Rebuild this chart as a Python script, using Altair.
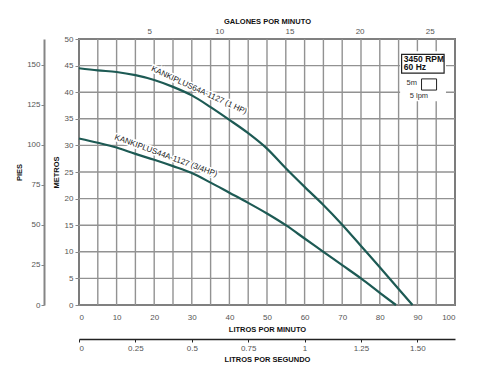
import json
import altair as alt
import pandas as pd

# ---------------- data ----------------
name_1hp = "KANKIPLUS64A-1127 (1 HP)"
name_34hp = "KANKIPLUS44A-1127 (3/4HP)"

hp1_lpm = [0, 5, 10, 15, 20, 25, 30, 35, 40, 45, 50, 55, 60, 65, 70, 75, 80, 85, 88.7]
hp1_m = [44.5, 44.1, 43.8, 43.2, 42.3, 41.0, 39.4, 37.2, 34.8, 32.3, 29.4, 25.7, 22.2, 18.8, 15.1, 11.1, 7.1, 3.0, 0]

hp34_lpm = [0, 5, 10, 15, 20, 25, 30, 35, 40, 45, 50, 55, 60, 65, 70, 75, 80, 84.3]
hp34_m = [31.3, 30.5, 29.6, 28.4, 27.3, 26.1, 24.8, 23.0, 21.1, 19.2, 17.2, 15.0, 12.5, 10.0, 7.5, 5.0, 2.3, 0]

lpm_grid = list(range(0, 101, 5))
lpm_labels = list(range(0, 101, 10))
m_ticks = list(range(0, 51, 5))
ft_ticks = [0, 25, 50, 75, 100, 125, 150]
gpm_ticks = [5, 10, 15, 20, 25]
lps_ticks = [0, 0.25, 0.5, 0.75, 1, 1.25, 1.5]
lps_labels = ["0", "0.25", "0.5", "0.75", "1", "1.25", "1.50"]

# curve labels (position in lpm / metros, angle)
label_text = [name_1hp, name_34hp]
label_lpm = [31.9, 23.1]
label_m = [40.3, 28.0]
label_angle = [24.7, 20.2]

# legend annotation
rpm_lines = ["3450 RPM", "60 Hz"]
rpm_lpm = [86.4, 86.4]
rpm_m = [46.3, 44.7]

# ---------------- style ----------------
W, H = 376, 266
FONT = "Liberation Sans"
TEAL = "#1d5a54"
GRID = "#929292"

lpm_domain = [0, 100]
m_domain = [0, 50]

xs = alt.Scale(domain=lpm_domain, nice=False, zero=False)
ys = alt.Scale(domain=m_domain, nice=False, zero=False)

curves = pd.DataFrame({
    "lpm": hp1_lpm + hp34_lpm,
    "m": hp1_m + hp34_m,
    "modelo": [name_1hp] * len(hp1_lpm) + [name_34hp] * len(hp34_lpm),
})

XN = dict(scale=xs, axis=None)
YN = dict(scale=ys, axis=None)

vgrid = alt.Chart(pd.DataFrame({"lpm": lpm_grid})).mark_rule(color=GRID, strokeWidth=1.4).encode(
    x=alt.X("lpm:Q", **XN))
hgrid = alt.Chart(pd.DataFrame({"m": m_ticks})).mark_rule(color=GRID, strokeWidth=1.4).encode(
    y=alt.Y("m:Q", **YN))

lines = alt.Chart(curves).mark_line(strokeWidth=2.2, interpolate="monotone", stroke=TEAL).encode(
    x=alt.X("lpm:Q", **XN), y=alt.Y("m:Q", **YN), detail="modelo:N",
)

# legend box (white background, bordered RPM box, scale square)
legend_bg = alt.Chart(pd.DataFrame({"lpm": [85.4], "lpm2": [97.6], "m": [38.3], "m2": [47.7]})).mark_rect(
    fill="white").encode(x=alt.X("lpm:Q", **XN), x2="lpm2:Q", y=alt.Y("m:Q", **YN), y2="m2:Q")

rpm_box = alt.Chart(pd.DataFrame({"lpm": [85.8], "lpm2": [97.1], "m": [43.6], "m2": [47.1]})).mark_rect(
    fill="white", stroke="#222", strokeWidth=1.2).encode(
    x=alt.X("lpm:Q", **XN), x2="lpm2:Q", y=alt.Y("m:Q", **YN), y2="m2:Q")

square = alt.Chart(pd.DataFrame({"lpm": [91.1], "lpm2": [95.1], "m": [40.4], "m2": [42.5]})).mark_rect(
    fill="white", stroke="#222", strokeWidth=1).encode(
    x=alt.X("lpm:Q", **XN), x2="lpm2:Q", y=alt.Y("m:Q", **YN), y2="m2:Q")

rpm_text = alt.Chart(pd.DataFrame({"lpm": rpm_lpm, "m": rpm_m, "t": rpm_lines})).mark_text(
    align="left", baseline="middle", font=FONT, fontSize=8.5, fontWeight="bold", color="#111").encode(
    x=alt.X("lpm:Q", **XN), y=alt.Y("m:Q", **YN), text="t:N")

five_m = alt.Chart(pd.DataFrame({"lpm": [89.9], "m": [41.7], "t": ["5m"]})).mark_text(
    align="right", baseline="middle", font=FONT, fontSize=7.5, color="#333").encode(
    x=alt.X("lpm:Q", **XN), y=alt.Y("m:Q", **YN), text="t:N")

five_lpm = alt.Chart(pd.DataFrame({"lpm": [90.4], "m": [39.3], "t": ["5 lpm"]})).mark_text(
    align="center", baseline="middle", font=FONT, fontSize=7.5, color="#333").encode(
    x=alt.X("lpm:Q", **XN), y=alt.Y("m:Q", **YN), text="t:N")

label_layers = []
for t, lx, ly, ang in zip(label_text, label_lpm, label_m, label_angle):
    df = pd.DataFrame({"lpm": [lx], "m": [ly], "t": [t]})
    for halo in (True, False):
        kw = dict(align="center", baseline="middle", font=FONT, fontSize=8, angle=ang)
        if halo:
            kw.update(color="white", stroke="white", strokeWidth=3)
        else:
            kw.update(color="#222")
        label_layers.append(alt.Chart(df).mark_text(**kw).encode(
            x=alt.X("lpm:Q", **XN), y=alt.Y("m:Q", **YN), text="t:N"))

main = alt.layer(vgrid, hgrid, lines, legend_bg, rpm_box, square, rpm_text, five_m, five_lpm, *label_layers)

# axis-only layers (invisible points)
lpm_axis = alt.Chart(pd.DataFrame({"lpm": lpm_labels})).mark_point(opacity=0).encode(
    x=alt.X("lpm:Q", scale=alt.Scale(domain=lpm_domain, nice=False, zero=False), axis=alt.Axis(
        orient="bottom", values=lpm_labels, labelOverlap=False, grid=False, domain=False, ticks=False,
        labelPadding=8, title="LITROS POR MINUTO", titlePadding=4)))

m_axis = alt.Chart(pd.DataFrame({"m": m_ticks})).mark_point(opacity=0).encode(
    y=alt.Y("m:Q", scale=alt.Scale(domain=m_domain, nice=False, zero=False), axis=alt.Axis(
        orient="left", values=m_ticks, labelOverlap=False, grid=False, domain=False,
        ticks=True, tickSize=4, tickColor="#888",
        labelPadding=2, title="METROS", titlePadding=4)))

pies = alt.Chart(pd.DataFrame({"ft": ft_ticks})).mark_point(opacity=0).encode(
    y=alt.Y("ft:Q", scale=alt.Scale(domain=[0, 166], nice=False, zero=False), axis=alt.Axis(
        orient="left", offset=35, values=ft_ticks, labelOverlap=False, grid=False,
        domainColor="#858585", domainWidth=2, tickColor="#858585", tickSize=3,
        labelPadding=1, title="PIES", titlePadding=3)),
)

gal = alt.Chart(pd.DataFrame({"gpm": gpm_ticks})).mark_point(opacity=0).encode(
    x=alt.X("gpm:Q", scale=alt.Scale(domain=[0, 26.8], nice=False, zero=False), axis=alt.Axis(
        orient="top", values=gpm_ticks, labelOverlap=False, grid=False, domain=False, ticks=False,
        labelPadding=4, title="GALONES POR MINUTO", titlePadding=2)),
)

lps_expr = f"{json.dumps(lps_labels)}[indexof({json.dumps(lps_ticks)}, datum.value)]"
lps = alt.Chart(pd.DataFrame({"lps": lps_ticks})).mark_point(opacity=0).encode(
    x=alt.X("lps:Q", scale=alt.Scale(domain=[0, 1.667], nice=False, zero=False), axis=alt.Axis(
        orient="bottom", offset=34, values=lps_ticks, labelExpr=lps_expr, labelOverlap=False, grid=False,
        domainColor="#222", domainWidth=1.5, tickColor="#222", tickSize=3,
        labelPadding=2, title="LITROS POR SEGUNDO", titlePadding=3)),
)

chart = alt.layer(main, lpm_axis, m_axis, pies, gal, lps).resolve_scale(
    x="independent", y="independent"
).properties(
    width=W, height=H,
    autosize=alt.AutoSizeParams(type="none"),
    padding={"left": 71, "top": 31, "right": 24, "bottom": 66},
).configure_view(stroke="#111", strokeWidth=1.5).configure_axis(
    labelFont=FONT, titleFont=FONT, labelFontSize=8, labelColor="#555",
    titleFontSize=7.5, titleFontWeight="bold", titleColor="#111",
)

chart.save("out.html", embed_options={"renderer": "svg", "actions": False})
